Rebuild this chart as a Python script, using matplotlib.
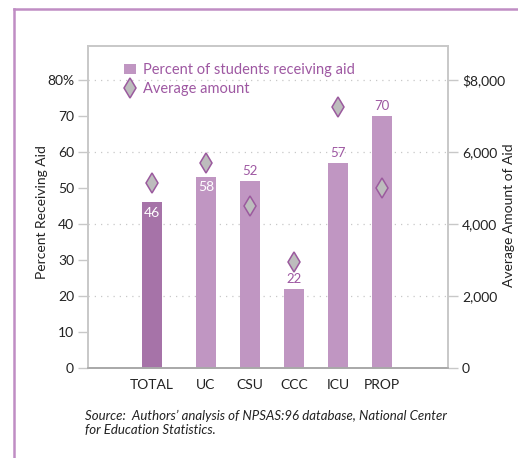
import matplotlib.pyplot as plt
from matplotlib.lines import Line2D
from matplotlib.patches import Patch

# === DONNEES ===
categories = ["TOTAL", "UC", "CSU", "CCC", "ICU", "PROP"]
pct_aid = [46, 53, 52, 22, 57, 70]           # bar heights as drawn
pct_labels = ["46", "58", "52", "22", "57", "70"]  # labels as printed
avg_amount = [5150, 5700, 4500, 2950, 7250, 5000]
x_pos = [0, 1.23, 2.23, 3.23, 4.23, 5.23]

bar_color = "#C096C2"
total_color = "#A673A8"
purple_txt = "#9E58A2"
grid_col = "#C8C8C8"

plt.rcParams["font.family"] = ["Lato", "DejaVu Sans"]

fig = plt.figure(figsize=(5.18, 4.58), dpi=100)
ax = fig.add_axes([88 / 518, 1 - 368 / 458, 360 / 518, 322 / 458])
ax2 = ax.twinx()

colors = [total_color] + [bar_color] * (len(categories) - 1)
ax.bar(x_pos, pct_aid, width=0.45, color=colors, zorder=2)

for i, (x, v, lab) in enumerate(zip(x_pos, pct_aid, pct_labels)):
    if i < 2:
        ax.text(x, v - 1.2, lab, ha="center", va="top", color="white", fontsize=10, zorder=3)
    else:
        ax.text(x, v + 1.0, lab, ha="center", va="bottom", color=purple_txt, fontsize=9.5, zorder=3)

ax2.plot(x_pos, avg_amount, linestyle="none", marker="d", markersize=10.5,
         markerfacecolor="#BDBDBD", markeredgecolor="#9B5A9E", markeredgewidth=1.1, zorder=4)

ax.set_xlim(-1.45, 6.73)
ax.set_ylim(0, 89.4)
ax2.set_ylim(0, 8940)

ax.set_yticks(range(0, 81, 10))
ax.set_yticklabels(["0", "10", "20", "30", "40", "50", "60", "70", "80%"])
ax2.set_yticks([0, 2000, 4000, 6000, 8000])
ax2.set_yticklabels(["0", "2,000", "4,000", "6,000", "$8,000"])
ax.set_xticks(x_pos)
ax.set_xticklabels(categories)

for y in [20, 40, 60, 80]:
    ax.axhline(y, color=grid_col, linestyle=(0, (1, 4)), linewidth=0.9, zorder=1)

for a in (ax, ax2):
    for s in a.spines.values():
        s.set_color(grid_col)
        s.set_linewidth(1.2)
    a.spines["bottom"].set_color("#A8A8A8")
ax.tick_params(axis="y", length=7, width=1, color=grid_col, labelsize=10, labelcolor="#222222", pad=3)
ax2.tick_params(axis="y", length=7, width=1, color=grid_col, labelsize=10, labelcolor="#222222", pad=3)
ax.tick_params(axis="x", length=0, labelsize=10, labelcolor="#222222", pad=8)

ax.set_ylabel("Percent Receiving Aid", fontsize=10, color="#222222")
ax2.set_ylabel("Average Amount of Aid", fontsize=10, color="#222222")
ax.yaxis.set_label_coords(-0.112, 0.484)
ax2.yaxis.set_label_coords(1.152, 0.475)

handles = [Patch(facecolor=bar_color, edgecolor="none"),
           Line2D([], [], linestyle="none", marker="d", markersize=10.5,
                  markerfacecolor="#BDBDBD", markeredgecolor="#9B5A9E", markeredgewidth=1.1)]
leg = ax.legend(handles, ["Percent of students receiving aid", "Average amount"],
                loc="upper left", bbox_to_anchor=(0.085, 0.965), frameon=False,
                fontsize=10.5, handlelength=0.8, handletextpad=0.45, labelspacing=0.35,
                borderaxespad=0)
for t in leg.get_texts():
    t.set_color(purple_txt)

fig.text(85 / 518, 1 - 423 / 458, "Source:  Authors\u2019 analysis of NPSAS:96 database, National Center\nfor Education Statistics.",
         fontsize=9.5, style="italic", color="#222222", va="center", linespacing=1.15)

# cadre violet
fig.add_artist(Line2D([14 / 518, 14 / 518], [0, 1 - 9 / 458], color="#C08DC4", linewidth=1.8))
fig.add_artist(Line2D([14 / 518, 1], [1 - 9 / 458, 1 - 9 / 458], color="#C08DC4", linewidth=1.8))

plt.savefig("out.png", dpi=100)
